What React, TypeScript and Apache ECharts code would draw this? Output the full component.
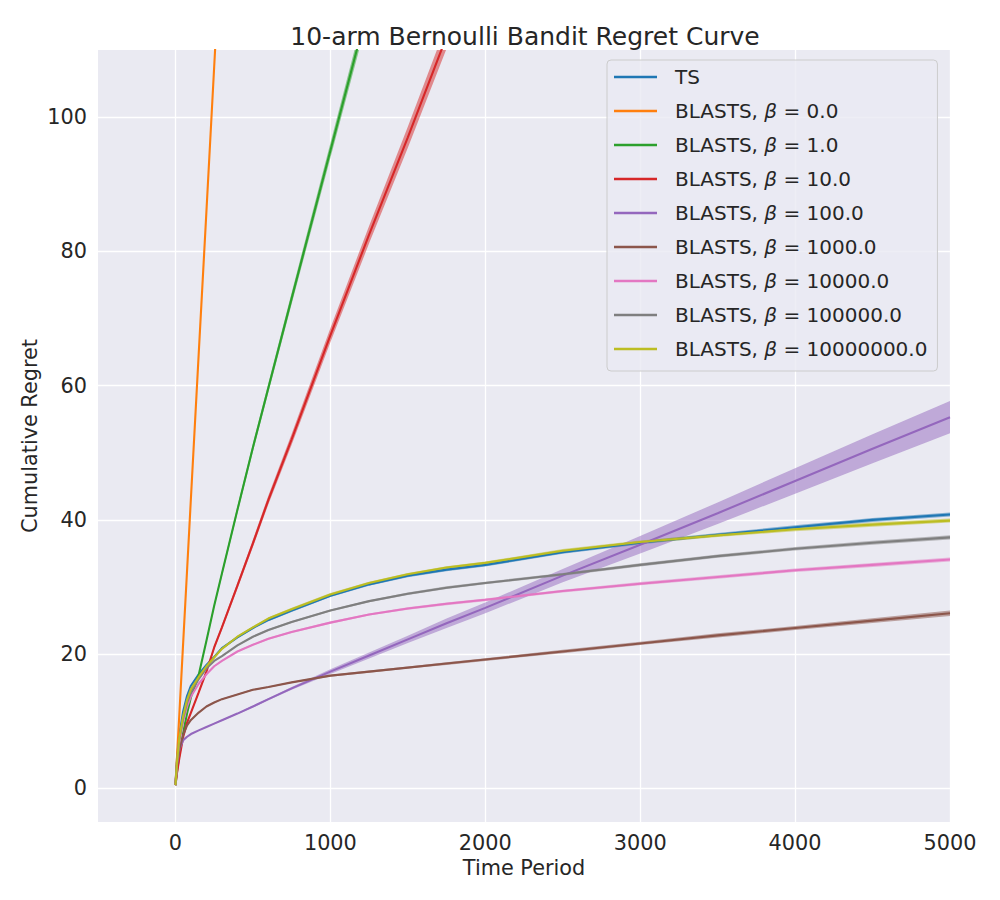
import React, { useEffect, useRef } from "react";
import * as echarts from "echarts";

const T = [0, 10, 25, 50, 75, 100, 150, 200, 250, 300, 400, 500, 600, 750, 1000, 1250, 1500, 1750, 2000, 2500, 3000, 3500, 4000, 4500, 5000];

const SERIES_NAMES = [
  "TS",
  "BLASTS, β = 0.0",
  "BLASTS, β = 1.0",
  "BLASTS, β = 10.0",
  "BLASTS, β = 100.0",
  "BLASTS, β = 1000.0",
  "BLASTS, β = 10000.0",
  "BLASTS, β = 100000.0",
  "BLASTS, β = 10000000.0",
];

const COLORS = ["#1f77b4", "#ff7f0e", "#2ca02c", "#d62728", "#9467bd", "#8c564b", "#e377c2", "#7f7f7f", "#bcbd22"];

const TS_VALUES = [0.5, 4.5, 8, 11.5, 13.8, 15.3, 17, 18.4, 19.6, 20.9, 22.5, 23.9, 25.1, 26.5, 28.7, 30.4, 31.7, 32.6, 33.3, 35.2, 36.6, 37.8, 38.9, 40, 40.8];
const B0_VALUES = [0.5, 4.8, 11, 21.8, 32.5, 43.3, 64.7, 86, 107.5, 129, 172, 215, 258, 322, 430, 537, 645, 752, 860, 1075, 1290, 1505, 1720, 1935, 2150];
const B1_VALUES = [0.5, 2.5, 5, 8.3, 11.2, 13.6, 16.9, 22, 27.2, 32, 41.5, 50.8, 59.7, 73, 95, 117, 139, 161, 183, 227, 271, 315, 359, 403, 447];
const B10_VALUES = [0.5, 2.3, 4.5, 7.7, 9.8, 11.3, 14.3, 17.4, 21, 24, 30.2, 36.5, 43, 52, 67.5, 82.5, 97, 112, 127, 157, 187, 217, 247, 277, 307];
const B100_VALUES = [0.5, 3.5, 5.8, 7.2, 7.7, 8.1, 8.65, 9.15, 9.65, 10.15, 11.15, 12.2, 13.3, 14.9, 17.4, 19.8, 22.2, 24.6, 26.9, 31.7, 36.3, 41, 45.8, 50.6, 55.3];
const B1000_VALUES = [0.5, 3.5, 5.8, 8, 9.4, 10.2, 11.3, 12.2, 12.8, 13.3, 14, 14.7, 15.1, 15.8, 16.8, 17.4, 18, 18.6, 19.2, 20.4, 21.6, 22.8, 23.9, 25, 26.1];
const B1E4_VALUES = [0.5, 3.8, 7, 10, 12.2, 13.7, 15.6, 17, 18.2, 19, 20.4, 21.4, 22.3, 23.3, 24.7, 25.9, 26.8, 27.5, 28.1, 29.4, 30.5, 31.5, 32.5, 33.3, 34.1];
const B1E5_VALUES = [0.5, 4, 7.3, 10.5, 12.8, 14.3, 16.3, 17.9, 19, 19.7, 21.3, 22.6, 23.6, 24.8, 26.5, 27.9, 29, 29.9, 30.6, 31.9, 33.3, 34.6, 35.7, 36.6, 37.4];
const B1E7_VALUES = [0.5, 4, 7.5, 10.8, 13.2, 14.8, 16.6, 18.2, 19.5, 20.8, 22.6, 24, 25.3, 26.7, 28.9, 30.6, 31.9, 32.9, 33.6, 35.4, 36.7, 37.7, 38.6, 39.3, 39.9];

// half-widths of the confidence bands
const TS_BAND = [0, 0.1, 0.1, 0.15, 0.15, 0.15, 0.15, 0.15, 0.15, 0.15, 0.15, 0.15, 0.2, 0.2, 0.2, 0.2, 0.25, 0.25, 0.25, 0.25, 0.25, 0.25, 0.3, 0.3, 0.3];
const B0_BAND = [0, 0.05, 0.1, 0.15, 0.2, 0.25, 0.3, 0.35, 0.4, 0.45, 0.5, 0.5, 0.5, 0.5, 0.5, 0.5, 0.5, 0.5, 0.5, 0.5, 0.5, 0.5, 0.5, 0.5, 0.5];
const B1_BAND = [0, 0.05, 0.05, 0.1, 0.1, 0.15, 0.2, 0.25, 0.3, 0.4, 0.5, 0.6, 0.7, 0.85, 1.1, 1.4, 1.7, 2, 2.3, 2.9, 3.5, 4.1, 4.7, 5.3, 6];
const B10_BAND = [0, 0.05, 0.05, 0.1, 0.1, 0.15, 0.2, 0.25, 0.3, 0.35, 0.45, 0.55, 0.65, 0.8, 1.05, 1.3, 1.55, 1.8, 2.05, 2.5, 3, 3.5, 4, 4.5, 5];
const B100_BAND = [0, 0.05, 0.05, 0.05, 0.05, 0.05, 0.05, 0.05, 0.1, 0.1, 0.1, 0.15, 0.15, 0.2, 0.35, 0.45, 0.55, 0.7, 0.8, 1, 1.3, 1.6, 1.9, 2.15, 2.4];
const B1000_BAND = [0, 0.05, 0.05, 0.1, 0.1, 0.1, 0.1, 0.1, 0.1, 0.1, 0.1, 0.1, 0.1, 0.1, 0.15, 0.15, 0.15, 0.2, 0.2, 0.25, 0.25, 0.3, 0.3, 0.35, 0.4];
const B1E4_BAND = [0, 0.05, 0.1, 0.1, 0.1, 0.1, 0.1, 0.1, 0.1, 0.1, 0.1, 0.1, 0.15, 0.15, 0.15, 0.15, 0.2, 0.2, 0.2, 0.2, 0.25, 0.25, 0.25, 0.3, 0.3];
const B1E5_BAND = [0, 0.05, 0.1, 0.1, 0.1, 0.1, 0.1, 0.1, 0.1, 0.1, 0.1, 0.1, 0.15, 0.15, 0.15, 0.15, 0.2, 0.2, 0.2, 0.2, 0.25, 0.25, 0.25, 0.3, 0.3];
const B1E7_BAND = [0, 0.05, 0.1, 0.1, 0.1, 0.1, 0.1, 0.15, 0.15, 0.15, 0.15, 0.15, 0.2, 0.2, 0.2, 0.2, 0.2, 0.2, 0.2, 0.25, 0.25, 0.25, 0.3, 0.3, 0.3];

const VALUES = [TS_VALUES, B0_VALUES, B1_VALUES, B10_VALUES, B100_VALUES, B1000_VALUES, B1E4_VALUES, B1E5_VALUES, B1E7_VALUES];
const BANDS = [TS_BAND, B0_BAND, B1_BAND, B10_BAND, B100_BAND, B1000_BAND, B1E4_BAND, B1E5_BAND, B1E7_BAND];

const X_TICKS = [0, 1000, 2000, 3000, 4000, 5000];
const Y_TICKS = [0, 20, 40, 60, 80, 100];

const TEXT = "#262626";
const FONT = "DejaVu Sans";

function hexToRgba(hex: string, a: number) {
  const r = parseInt(hex.slice(1, 3), 16);
  const g = parseInt(hex.slice(3, 5), 16);
  const b = parseInt(hex.slice(5, 7), 16);
  return `rgba(${r},${g},${b},${a})`;
}

export default function App() {
  const ref = useRef<HTMLDivElement>(null);
  useEffect(() => {
    document.body.style.margin = "0";
    if (!ref.current) return;
    const chart = echarts.init(ref.current, undefined, { renderer: "svg" });

    const series: any[] = [];
    SERIES_NAMES.forEach((name, i) => {
      const vals = VALUES[i];
      const band = BANDS[i];
      const color = COLORS[i];
      series.push({
        name: "__band" + i,
        type: "custom",
        data: [[T[0], vals[0]]],
        encode: { x: 0, y: 1 },
        silent: true,
        clip: true,
        z: 2,
        renderItem: (params: any, api: any) => {
          const pts: number[][] = [];
          for (let j = 0; j < T.length; j++) pts.push(api.coord([T[j], vals[j] + band[j]]));
          for (let j = T.length - 1; j >= 0; j--) pts.push(api.coord([T[j], vals[j] - band[j]]));
          const cs = params.coordSys;
          return {
            type: "polygon",
            shape: { points: pts },
            style: { fill: hexToRgba(color, 0.5), stroke: "none" },
            clipPath: { type: "rect", shape: { x: cs.x, y: cs.y, width: cs.width, height: cs.height } },
          };
        },
      });
      series.push({
        name,
        type: "line",
        data: T.map((t, j) => [t, vals[j]]),
        symbol: "none",
        showSymbol: false,
        color,
        lineStyle: { color, width: 2.1 },
        z: 3,
      });
    });

    chart.setOption({
      animation: false,
      textStyle: { fontFamily: FONT, color: TEXT },
      title: {
        text: "10-arm Bernoulli Bandit Regret Curve",
        left: 520,
        top: 19,
        textAlign: "center",
        textStyle: { fontFamily: FONT, fontSize: 25, fontWeight: "normal", color: TEXT },
      },
      grid: {
        left: 98,
        right: 50,
        top: 50,
        bottom: 78,
        show: true,
        backgroundColor: "#EAEAF2",
        borderWidth: 0,
      },
      legend: {
        data: SERIES_NAMES,
        orient: "vertical",
        left: 607,
        top: 60,
        padding: [5, 10, 10, 7],
        icon: "rect",
        itemWidth: 43,
        itemHeight: 2.5,
        itemGap: 10,
        selectedMode: false,
        backgroundColor: "rgba(234,234,242,0.8)",
        borderColor: "#cccccc",
        borderWidth: 1,
        borderRadius: 4,
        formatter: (name: string) => "{s| }" + name.replace("β", "{b|β}"),
        textStyle: {
          fontFamily: FONT,
          fontSize: 20,
          color: TEXT,
          lineHeight: 24,
          rich: {
            s: { width: 13, fontSize: 20, fontFamily: FONT },
            b: { fontStyle: "italic", fontSize: 20, fontFamily: FONT, color: TEXT },
          },
        },
      },
      xAxis: {
        type: "value",
        min: -500,
        max: 5000,
        name: "Time Period",
        nameLocation: "middle",
        nameGap: 34,
        nameTextStyle: { fontFamily: FONT, fontSize: 20.8, color: TEXT },
        axisLine: { show: false },
        axisTick: { show: false, customValues: X_TICKS },
        axisLabel: {
          customValues: X_TICKS,
          formatter: (v: number) => String(v),
          fontFamily: FONT,
          fontSize: 20.8,
          color: TEXT,
          margin: 10,
        },
        splitLine: { show: true, lineStyle: { color: "#ffffff", width: 1.3 } },
      },
      yAxis: {
        type: "value",
        min: -5,
        max: 110,
        name: "Cumulative Regret",
        nameLocation: "middle",
        nameGap: 58,
        nameMoveOverlap: false,
        nameTextStyle: { fontFamily: FONT, fontSize: 20.8, color: TEXT },
        axisLine: { show: false },
        axisTick: { show: false, customValues: Y_TICKS },
        axisLabel: {
          customValues: Y_TICKS,
          formatter: (v: number) => String(v),
          fontFamily: FONT,
          fontSize: 20.8,
          color: TEXT,
          margin: 11,
        },
        splitLine: { show: true, lineStyle: { color: "#ffffff", width: 1.3 } },
      },
      series,
    });
    return () => chart.dispose();
  }, []);
  return <div ref={ref} style={{ width: 1000, height: 900 }} />;
}
